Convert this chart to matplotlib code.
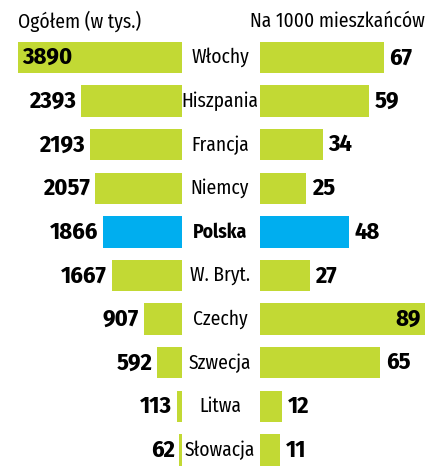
import matplotlib.pyplot as plt
import matplotlib.transforms as mtransforms

countries = ["Włochy", "Hiszpania", "Francja", "Niemcy", "Polska",
             "W. Bryt.", "Czechy", "Szwecja", "Litwa", "Słowacja"]
total_k = [3890, 2393, 2193, 2057, 1866, 1667, 907, 592, 113, 62]
per_1000 = [67, 59, 34, 25, 48, 27, 89, 65, 12, 11]
highlight = "Polska"

green = "#c2d934"
blue = "#00aeef"
plt.rcParams["font.family"] = ["Fira Sans Condensed", "DejaVu Sans"]
plt.rcParams["font.stretch"] = "condensed"

W, H = 426, 467
fig = plt.figure(figsize=(W / 100, H / 100), dpi=100)

# left panel: bars grow to the left, ending at x=182px
axl = fig.add_axes([0, 0, 182 / W, 1])
# right panel: bars start at x=260px
axr = fig.add_axes([260 / W, 0, (W - 260) / W, 1])

ylim = (9.39, -1.32)
colors = [blue if c == highlight else green for c in countries]
rows = range(len(countries))

axl.barh(rows, total_k, height=0.72, color=colors)
axl.set_xlim(182 / 164 * 3890, 0)
axr.barh(rows, per_1000, height=0.72, color=colors)
axr.set_xlim(0, (W - 260) / 124 * 67)

for ax in (axl, axr):
    ax.set_ylim(*ylim)
    ax.axis("off")

vfs = 17.5
for i, v in enumerate(total_k):
    if i == 0:
        axl.annotate(str(v), (v, i), xytext=(3, 0), textcoords="offset points",
                     ha="left", va="center", fontsize=vfs, fontweight="bold")
    else:
        axl.annotate(str(v), (v, i), xytext=(-3.5, 0), textcoords="offset points",
                     ha="right", va="center", fontsize=vfs, fontweight="bold")

for i, v in enumerate(per_1000):
    if v == max(per_1000):
        axr.annotate(str(v), (v, i), xytext=(-3, 0), textcoords="offset points",
                     ha="right", va="center", fontsize=vfs, fontweight="bold")
    else:
        axr.annotate(str(v), (v, i), xytext=(4, 0), textcoords="offset points",
                     ha="left", va="center", fontsize=vfs, fontweight="bold")

trans = mtransforms.blended_transform_factory(fig.transFigure, axl.transData)
for i, c in enumerate(countries):
    axl.text(220 / W, i, c, transform=trans, ha="center", va="center",
             fontsize=14, fontweight="bold" if c == highlight else "normal",
             clip_on=False)

fig.text(18 / W, 1 - 21 / H, "Ogółem (w tys.)", ha="left", va="center", fontsize=14)
fig.text(425 / W, 1 - 21 / H, "Na 1000 mieszkańców", ha="right", va="center", fontsize=14)

fig.savefig("out.png", dpi=100)
